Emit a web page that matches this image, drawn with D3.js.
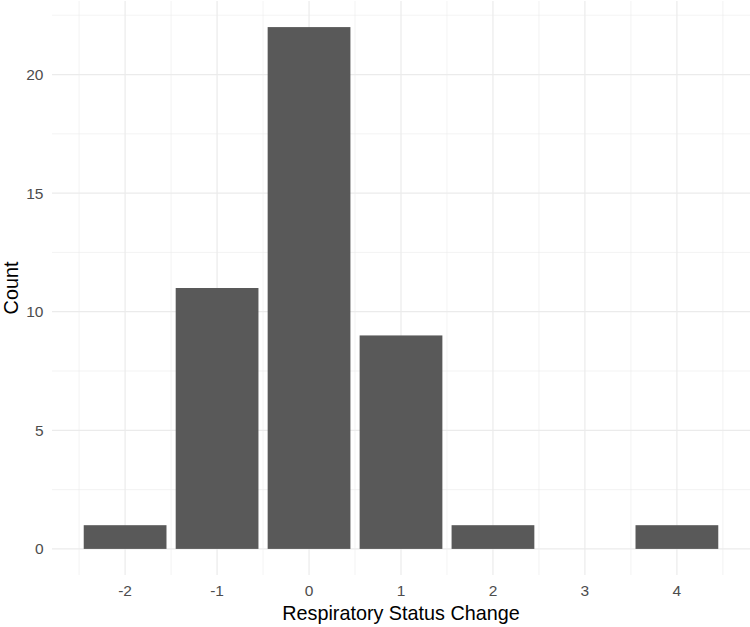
<!DOCTYPE html>
<html>
<head>
<meta charset="utf-8">
<script src="https://cdn.jsdelivr.net/npm/d3@7"></script>
<style>
  body { margin: 0; background: #fff; }
  text { font-family: "Liberation Sans", Arial, sans-serif; }
</style>
</head>
<body>
<svg id="chart" width="750" height="627"></svg>
<script>
const categories = [-2, -1, 0, 1, 2, 3, 4];
const counts = [1, 11, 22, 9, 1, 0, 1];
const xTicks = [-2, -1, 0, 1, 2, 3, 4];
const xMinor = [-2.5, -1.5, -0.5, 0.5, 1.5, 2.5, 3.5, 4.5];
const yTicks = [0, 5, 10, 15, 20];
const yMinor = [2.5, 7.5, 12.5, 17.5, 22.5];
const xTitle = "Respiratory Status Change";
const yTitle = "Count";

const svg = d3.select("#chart");
const panel = { left: 52, right: 750, top: 1, bottom: 575 };

const barHalf = 0.45;
const xMinV = d3.min(categories) - barHalf, xMaxV = d3.max(categories) + barHalf;
const xPad = (xMaxV - xMinV) * 0.05;
const x = d3.scaleLinear().domain([xMinV - xPad, xMaxV + xPad]).range([panel.left, panel.right]);
const yMaxV = d3.max(counts);
const yPad = yMaxV * 0.05;
const y = d3.scaleLinear().domain([-yPad, yMaxV + yPad]).range([panel.bottom, panel.top]);

const grid = svg.append("g");
grid.selectAll(".hmin").data(yMinor).join("line")
  .attr("x1", panel.left).attr("x2", panel.right)
  .attr("y1", d => y(d)).attr("y2", d => y(d))
  .attr("stroke", "#ebebeb").attr("stroke-width", 0.6);
grid.selectAll(".vmin").data(xMinor).join("line")
  .attr("y1", panel.top).attr("y2", panel.bottom)
  .attr("x1", d => x(d)).attr("x2", d => x(d))
  .attr("stroke", "#ebebeb").attr("stroke-width", 0.6);
grid.selectAll(".hmaj").data(yTicks).join("line")
  .attr("x1", panel.left).attr("x2", panel.right)
  .attr("y1", d => y(d)).attr("y2", d => y(d))
  .attr("stroke", "#ebebeb").attr("stroke-width", 1.2);
grid.selectAll(".vmaj").data(xTicks).join("line")
  .attr("y1", panel.top).attr("y2", panel.bottom)
  .attr("x1", d => x(d)).attr("x2", d => x(d))
  .attr("stroke", "#ebebeb").attr("stroke-width", 1.2);

const data = categories.map((c, i) => ({ c, v: counts[i] }));
svg.append("g").selectAll("rect").data(data).join("rect")
  .attr("x", d => x(d.c - barHalf))
  .attr("width", d => x(d.c + barHalf) - x(d.c - barHalf))
  .attr("y", d => y(d.v))
  .attr("height", d => y(0) - y(d.v))
  .attr("fill", "#595959");

svg.append("g").selectAll("text").data(xTicks).join("text")
  .attr("x", d => x(d)).attr("y", 596)
  .attr("text-anchor", "middle")
  .attr("font-size", 15.5).attr("fill", "#4d4d4d")
  .text(d => d);

svg.append("g").selectAll("text").data(yTicks).join("text")
  .attr("x", 43.5).attr("y", d => y(d))
  .attr("dy", "0.36em")
  .attr("text-anchor", "end")
  .attr("font-size", 15.5).attr("fill", "#4d4d4d")
  .text(d => d);

svg.append("text")
  .attr("x", (panel.left + panel.right) / 2).attr("y", 620)
  .attr("text-anchor", "middle")
  .attr("font-size", 19.8).attr("fill", "#000")
  .text(xTitle);

svg.append("text")
  .attr("transform", `translate(18,${(panel.top + panel.bottom) / 2}) rotate(-90)`)
  .attr("text-anchor", "middle")
  .attr("font-size", 19.8).attr("fill", "#000")
  .text(yTitle);
</script>
</body>
</html>
